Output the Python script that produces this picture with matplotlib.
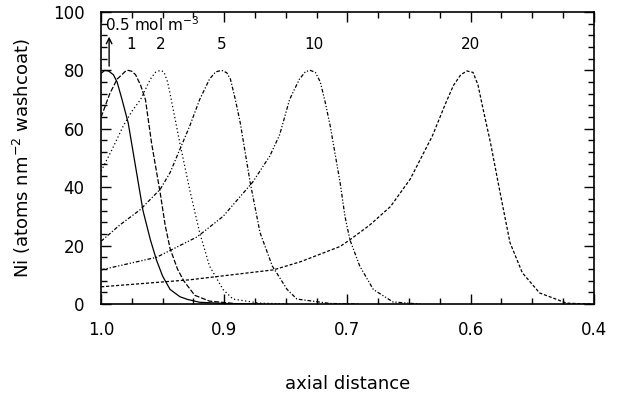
import matplotlib.pyplot as plt
from matplotlib.ticker import MultipleLocator

plt.rcParams['font.family'] = 'DejaVu Sans'

# axial position in tick units (0 = inlet), Ni loading per concentration
x_05 = [0, 0.03, 0.06, 0.10, 0.13, 0.17, 0.22, 0.28, 0.34, 0.40, 0.45, 0.50, 0.56, 0.64, 0.70, 0.80, 1.05, 1.30]
y_05 = [79, 80, 79.8, 78.5, 76, 70, 62, 47, 32, 22, 15, 9.5, 5, 2.5, 1.6, 0.6, 0.1, 0]

x_1 = [0, 0.07, 0.13, 0.18, 0.20, 0.22, 0.25, 0.28, 0.32, 0.36, 0.41, 0.48, 0.52, 0.56, 0.62, 0.67, 0.76, 0.88, 1.13]
y_1 = [64, 72, 77, 79, 79.8, 80, 79.7, 78.5, 75, 70, 55, 38, 27, 19, 12, 8, 3, 1, 0]

x_2 = [0, 0.09, 0.18, 0.25, 0.32, 0.40, 0.44, 0.48, 0.51, 0.54, 0.56, 0.64, 0.72, 0.80, 0.88, 0.99, 1.07, 1.29, 1.53]
y_2 = [45.5, 53, 61, 66, 70, 77, 79.3, 80, 79.5, 76, 72, 55, 39, 24.5, 13, 5, 1.7, 0.3, 0]

x_5 = [0, 0.15, 0.32, 0.48, 0.56, 0.64, 0.72, 0.80, 0.88, 0.93, 0.98, 1.02, 1.05, 1.09, 1.13, 1.21, 1.29, 1.39, 1.51, 1.59, 1.86, 2.10]
y_5 = [21.5, 27, 32.4, 39.3, 45, 53, 61, 70, 77, 79.5, 80, 79.2, 77, 70, 62, 41.7, 24.5, 13, 5, 1.7, 0.2, 0]

x_10 = [0, 0.45, 0.78, 0.99, 1.23, 1.37, 1.45, 1.53, 1.61, 1.66, 1.70, 1.74, 1.78, 1.82, 1.86, 1.94, 1.98, 2.02, 2.10, 2.21, 2.37, 2.59]
y_10 = [11.7, 16, 23, 30, 41.7, 50.7, 58, 70, 77, 79.6, 80, 79.3, 76, 69, 61, 41.7, 30, 22, 13, 5, 0.7, 0]

x_20 = [0, 0.72, 1.40, 1.62, 1.94, 2.02, 2.18, 2.35, 2.51, 2.69, 2.79, 2.86, 2.92, 2.97, 3.02, 3.06, 3.10, 3.16, 3.24, 3.32, 3.42, 3.56, 3.78, 3.97]
y_20 = [5.9, 8.3, 11.7, 14.5, 19.7, 22, 27, 33.4, 42.8, 57.6, 68, 74.8, 78.5, 79.8, 79.3, 75, 67, 55.5, 38, 21, 10.7, 3.8, 0.3, 0]

x_ticklabels = ['1.0', '0.9', '0.7', '0.6', '0.4']
curve_labels = ['1', '2', '5', '10', '20']
label_x = [0.24, 0.48, 0.98, 1.73, 3.0]

fig = plt.figure(figsize=(6.44, 3.99), dpi=100)
ax = fig.add_axes([0.157, 0.238, 0.765, 0.732])

lw = 0.9
ax.plot(x_05, y_05, color='black', lw=lw, ls='-')
ax.plot(x_1, y_1, color='black', lw=lw, ls=(0, (4, 1.5)))
ax.plot(x_2, y_2, color='black', lw=lw, ls=(0, (1, 2)))
ax.plot(x_5, y_5, color='black', lw=lw, ls=(0, (3, 1.5, 1, 1.5)))
ax.plot(x_10, y_10, color='black', lw=lw, ls=(0, (3, 1.5, 1, 1.5, 1, 1.5)))
ax.plot(x_20, y_20, color='black', lw=lw, ls=(0, (2.5, 1.5)))

for lab, lx in zip(curve_labels, label_x):
    ax.text(lx, 89, lab, ha='center', va='center', fontsize=11)

ax.text(0.03, 95.5, '0.5 mol m$^{-3}$', ha='left', va='center', fontsize=11)
ax.annotate('', xy=(0.065, 92.5), xytext=(0.065, 80.5),
            arrowprops=dict(arrowstyle='->', color='black', lw=1.0))

ax.set_xlim(0, 4)
ax.set_ylim(0, 100)
ax.set_xticks(range(5))
ax.set_xticklabels(x_ticklabels)
ax.xaxis.set_minor_locator(MultipleLocator(0.25))
ax.yaxis.set_major_locator(MultipleLocator(20))
ax.yaxis.set_minor_locator(MultipleLocator(4))
ax.tick_params(which='both', direction='in', top=True, right=True, labelsize=12)
ax.tick_params(which='major', length=7, width=1)
ax.tick_params(which='minor', length=4, width=1)
ax.tick_params(axis='x', pad=12)
ax.tick_params(axis='y', pad=12)
for s in ax.spines.values():
    s.set_linewidth(1.2)

ax.set_xlabel('axial distance', fontsize=13, labelpad=26)
ax.set_ylabel('Ni (atoms nm$^{-2}$ washcoat)', fontsize=13, labelpad=14)

fig.savefig('out.png', dpi=100)
